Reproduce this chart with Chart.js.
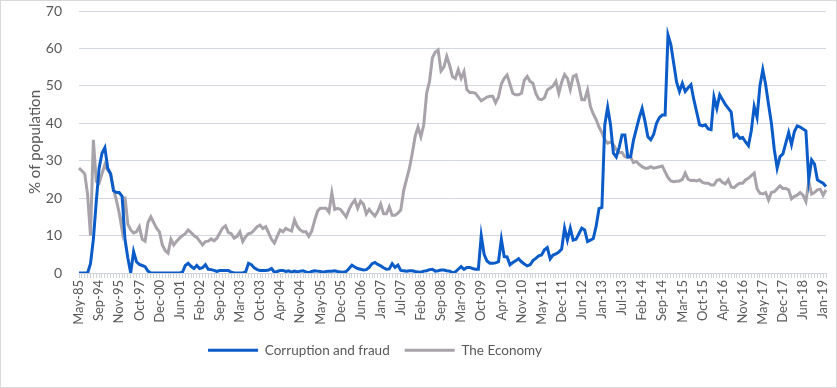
<!DOCTYPE html>
<html>
<head>
<meta charset="utf-8">
<script src="https://cdn.jsdelivr.net/npm/chart.js@4"></script>
<style>
  body { margin: 0; background: #fff; }
  #wrap { width: 835px; height: 386px; border: 1px solid #d9d9d9; }
</style>
</head>
<body>
<div id="wrap"><canvas id="myChart" width="835" height="386"></canvas></div>
<script>
// labels shown on the x axis, one every 7 survey points
const tickLabels = ['May-85','Sep-94','Nov-95','Oct-97','Dec-00','Jun-01','Feb-02','Sep-02','Mar-03','Oct-03',
  'Apr-04','Nov-04','May-05','Dec-05','Jun-06','Jan-07','Jul-07','Feb-08','Sep-08','Mar-09',
  'Oct-09','Apr-10','Nov-10','May-11','Dec-11','Jun-12','Jan-13','Jul-13','Feb-14','Sep-14',
  'Mar-15','Oct-15','Apr-16','Nov-16','May-17','Dec-17','Jun-18','Jan-19'];
const labelStep = 7;

const corruption = [
  0,0,0,0,2.5,9,19, 28,32,33.5,28,26.5,22,21.5,
  21.5,20.5,9,4,0,5.7,3, 2.3,2,1.7,0.5,0,0,0,
  0,0,0,0,0,0,0, 0,0.2,2,2.6,1.8,1.2,2,
  1.2,1.4,2.2,1,0.9,0.7,0.4, 0.7,0.7,0.7,0.7,0.2,0,0,
  0,0,0.3,2.6,2.2,1.4,0.9, 0.7,0.7,0.7,0.8,1.2,0.2,0.4,
  0.7,0.7,0.4,0.6,0.2,0.5,0.3, 0.5,0.6,0.3,0.1,0.4,0.6,0.5,
  0.4,0.2,0.4,0.5,0.5,0.6,0.4, 0.3,0.2,0.4,1.2,2.1,1.6,1.2,
  1,0.8,0.9,1.5,2.5,2.8,2.3, 1.9,1.4,1,1.1,2.5,1.5,2.1,
  0.7,0.6,0.5,0.6,0.6,0.4,0.3, 0.2,0.5,0.6,0.9,1,0.5,0.6,
  0.8,0.8,0.6,0.5,0.1,0.3,1, 1.7,1,1.5,1.5,1.2,1,1,
  10,5,3.2,2.6,2.6,2.7,3, 9,4.4,4.3,2.2,2.8,3.3,3.8,
  3,2.4,1.9,2.2,3.3,3.9,4.6, 4.8,6.2,6.8,3.8,4.8,5.1,5.6,
  6.4,12,8.8,12,8.8,9,10.5, 12,11.5,8.4,8.8,9.2,12.5,17.2,
  17.5,39.6,44.3,39.6,32,31,33.5, 36.9,36.9,31,31.1,35.5,38.5,41.5,
  44,40.5,36.4,35.6,37,40,41.5, 42.2,42.2,63.6,61,56,51,48.5,
  50.7,48.5,49.5,50.3,46.3,43,39.6, 39.3,39.6,38.5,38.3,47,44,47.6,
  46.3,45,44,43,36.5,37.1,36, 36.2,35,34,38,44.5,41.6,50,
  54.3,50.3,45,40,33,28,31.1, 31.8,34.7,37.5,34.3,37.8,39.3,39,
  38.5,38,25,30.2,29.1,24.9,24.4, 24,23.1
];

const economy = [
  28,27.3,26.5,21,10,35.6,24.5, 24,26.5,29,27.5,26.5,22.5,19.5,
  16,11.5,20.4,13,11.5,10.7,11, 12.4,9,8.5,13.5,15,13.5,12,
  11,7.5,6,5.3,9,7.5,8.5, 9.3,10,10.5,11.5,10.8,10,9.5,
  8.5,7.5,8.4,8.5,9.1,8.6,9.3, 10.7,12,12.6,10.8,10.5,9.3,9.8,
  11,8.4,9.7,10.5,10.7,11.5,12.4, 12.8,11.9,12.4,10.7,9,8,9.8,
  11.5,11,11.9,11.5,11.2,14.2,12.4, 11.5,11,11,9.8,11.2,14,16.5,
  17.3,17.3,17.3,16.3,21.4,17,17.3, 17,16,15,17,18.5,19.5,17.3,
  19.2,18.4,15.8,17,16,15.2,16.5, 18.4,15.8,15.8,17.7,15.4,15.4,16,
  16.8,22,25,28,32,36.5,39, 36.4,39.6,48,51.2,57.5,59,59.6,
  54,55,57.9,55.5,52.5,52,54.3, 52,53.8,49,48.2,48.2,48,47,
  46,46.5,47,47.2,47.2,45.5,47, 50.5,52,52.9,50.5,48,47.6,47.6,
  48,51.5,52.5,51.2,50.7,48,46.5, 46.3,46.8,48.9,49.4,50,51.2,48,
  51,53,52,49,52.5,52.9,50, 46.3,46.3,48.9,44.5,42.5,41,39,
  37.5,35.6,34.7,35,34.3,33,32.2, 32.2,31.1,31,31,29.5,29.8,29,
  28.4,28,28,28.4,28,28.2,28.4, 28.6,27,25.5,24.6,24.4,24.5,24.6,
  25,26.7,25,24.7,24.8,24.6,24.9, 24.2,24,24,23.5,23.5,24.7,25,
  24.2,23.8,24.9,23,22.8,23.5,24, 24,24.9,25.3,26,26.7,22.5,21.3,
  21.1,21.5,19.5,21.5,21.7,22.5,23.3, 22.6,22.6,22.2,19.8,20.5,20.8,21.5,
  20.8,19.1,24.4,21.1,21.5,22.2,22.4, 20.8,22.2
];

// one category per survey point, named only where the axis shows a label
const categories = [];
for (let i = 0; i < corruption.length; i++) {
  categories.push(i % labelStep === 0 && tickLabels[i / labelStep] ? tickLabels[i / labelStep] : '');
}

const textColor = '#595959';
const fontFamily = 'Lato, "Liberation Sans", sans-serif';

// the legend in the original sits a bit left of centre
const legendShift = {
  id: 'legendShift',
  afterLayout(chart) {
    chart.legend.left -= 49;
    chart.legend.right -= 49;
  }
};

new Chart(document.getElementById('myChart'), {
  type: 'line',
  data: {
    labels: categories,
    datasets: [{
      label: 'Corruption and fraud',
      data: corruption,
      borderColor: '#0b5cc8',
      backgroundColor: '#0b5cc8',
      borderWidth: 3,
      pointRadius: 0,
      pointStyle: 'line',
      tension: 0
    }, {
      label: 'The Economy',
      data: economy,
      borderColor: '#a8a3aa',
      backgroundColor: '#a8a3aa',
      borderWidth: 3,
      pointRadius: 0,
      pointStyle: 'line',
      tension: 0
    }]
  },
  plugins: [legendShift],
  options: {
    responsive: false,
    animation: false,
    layout: { padding: { left: 21, right: 10, top: 0, bottom: 20 } },
    plugins: {
      legend: {
        position: 'bottom',
        labels: {
          usePointStyle: true,
          pointStyleWidth: 50,
          color: textColor,
          font: { family: fontFamily, size: 13.5 },
          padding: 15
        }
      },
      tooltip: { enabled: false }
    },
    scales: {
      x: {
        offset: false,
        afterFit(scale) {
          scale.height = 55.5;
          scale.paddingLeft = 0;
          scale.paddingRight = 0;
        },
        grid: { drawOnChartArea: false, drawTicks: true, tickLength: 5, color: '#d0d4da' },
        border: { color: '#d0d4da' },
        ticks: {
          autoSkip: false,
          maxRotation: 90,
          minRotation: 90,
          color: textColor,
          font: { family: fontFamily, size: 13 },
          padding: 2
        }
      },
      y: {
        min: 0,
        max: 70,
        afterFit(scale) {
          scale.width = 57;
          scale.paddingTop = 10;
        },
        ticks: { stepSize: 10, color: textColor, font: { family: fontFamily, size: 14 }, padding: 17 },
        grid: { color: '#d3d8e0', drawTicks: false },
        border: { display: false },
        title: {
          display: true,
          text: '% of population',
          color: textColor,
          font: { family: fontFamily, size: 15 }
        }
      }
    }
  }
});
</script>
</body>
</html>
